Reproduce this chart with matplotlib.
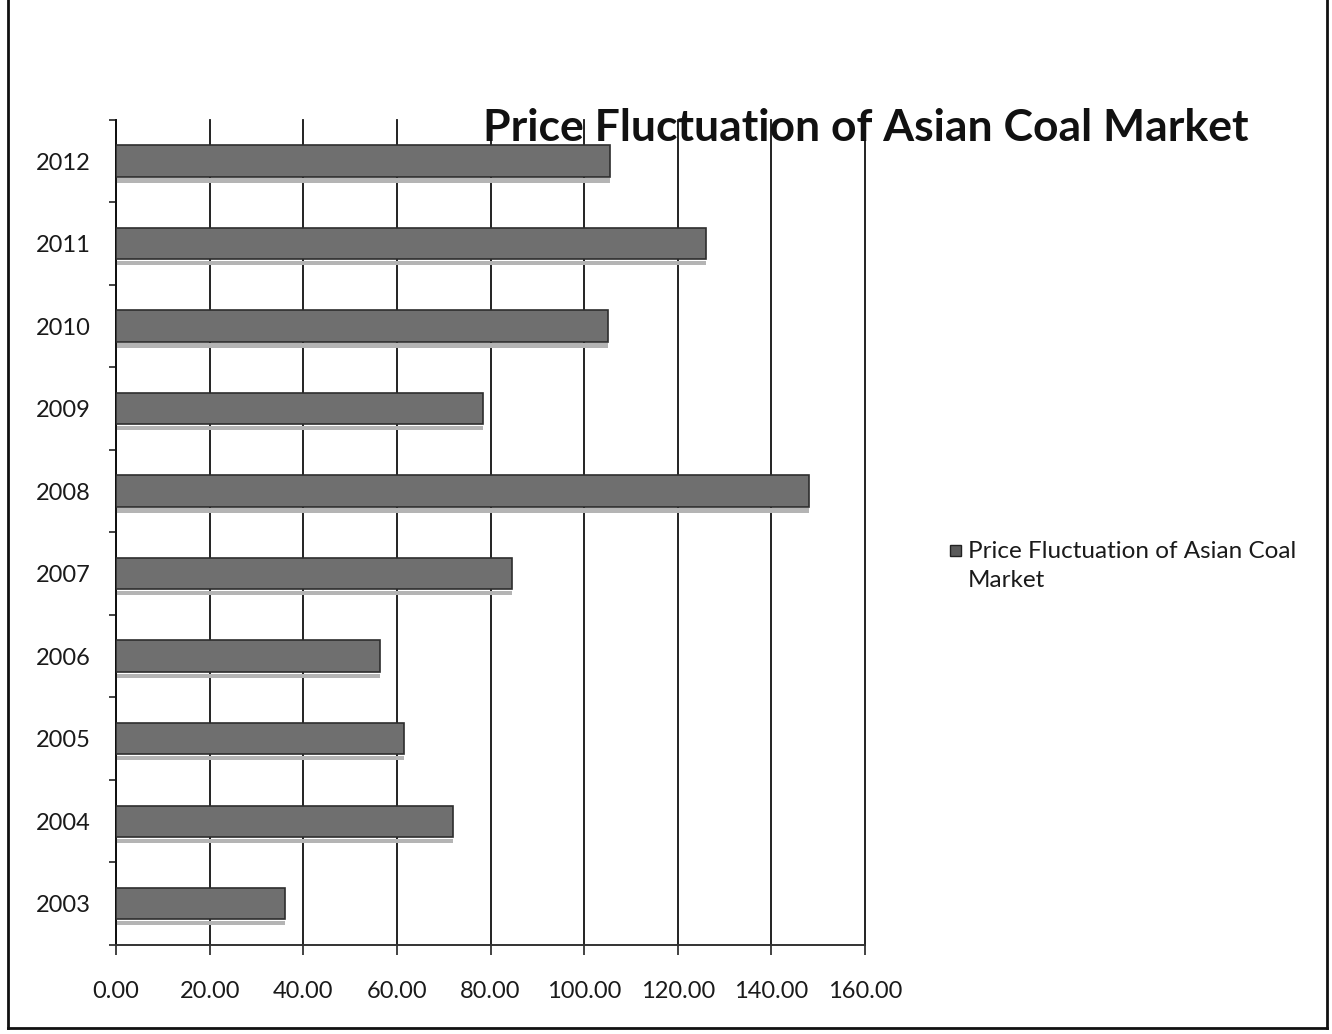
import matplotlib
matplotlib.use("Agg")
import matplotlib.pyplot as plt
from matplotlib.patches import Rectangle
from matplotlib.lines import Line2D
import numpy as np

years = ["2003", "2004", "2005", "2006", "2007", "2008", "2009", "2010", "2011", "2012"]
prices = [36.2, 72.0, 61.5, 56.3, 84.5, 148.0, 78.4, 105.2, 126.0, 105.6]
x_ticks = [0, 20, 40, 60, 80, 100, 120, 140, 160]
series_name = "Price Fluctuation of Asian Coal Market"

plt.rcParams["font.family"] = ["Lato", "DejaVu Sans"]

fig = plt.figure(figsize=(13.32, 10.34), dpi=100)
fig.patch.set_facecolor("white")

ax = fig.add_axes([0.0871, 0.0861, 0.5623, 0.798])
pos = np.arange(len(years))
bar_h = 0.38

# soft drop shadow under each bar
ax.barh(pos - bar_h / 2 - 0.045, prices, height=0.05, left=0,
        color="#b4b4b4", edgecolor="none", zorder=2)
ax.barh(pos, prices, height=bar_h, color="#6f6f6f",
        edgecolor="#2e2e2e", linewidth=1.2, zorder=3, label=series_name)

ax.set_xlim(0, 160)
ax.set_ylim(-0.5, len(years) - 0.5)

ax.set_xticks(x_ticks)
ax.set_xticklabels([f"{v:.2f}" for v in x_ticks], fontsize=17, color="#1a1a1a")
ax.tick_params(axis="x", direction="out", length=7, width=1.2, pad=19, color="#222222")

ax.set_yticks(pos)
ax.set_yticklabels(years, fontsize=17, color="#1a1a1a")
ax.tick_params(axis="y", which="major", length=0, pad=18)
ax.set_yticks(np.arange(-0.5, len(years)), minor=True)
ax.tick_params(axis="y", which="minor", direction="out", length=5, width=1.2, color="#222222")

ax.grid(axis="x", color="#111111", linewidth=1.3, zorder=1)
for gl in ax.get_xgridlines():
    gl.set_clip_on(False)
ax.set_axisbelow(True)
for s in ["top", "right"]:
    ax.spines[s].set_visible(False)
ax.spines["left"].set_color("#111111")
ax.spines["left"].set_linewidth(1.4)
ax.spines["bottom"].set_color("#333333")
ax.spines["bottom"].set_linewidth(1.4)

fig.text(483 / 1332, 1 - 128 / 1034, series_name, fontsize=32, fontweight="bold",
         ha="left", va="center", color="#111111")

# legend entry
fig.patches.append(Rectangle((950 / 1332, 1 - 556 / 1034), 11 / 1332, 11 / 1034,
                             transform=fig.transFigure, facecolor="#5a5a5a",
                             edgecolor="#222222", linewidth=1))
fig.text(968 / 1332, 1 - 566 / 1034, "Price Fluctuation of Asian Coal\nMarket",
         fontsize=17.5, ha="left", va="center", color="#1a1a1a", linespacing=1.5)

# outer frame on the left, right and bottom
fx0, fx1, fy0 = 8 / 1332, 1327 / 1332, 6 / 1034
frame_kw = dict(transform=fig.transFigure, color="#111111", linewidth=2)
fig.lines.append(Line2D([fx0, fx0], [fy0, 1.0], **frame_kw))
fig.lines.append(Line2D([fx1, fx1], [fy0, 1.0], **frame_kw))
fig.lines.append(Line2D([fx0, fx1], [fy0, fy0], **frame_kw))

fig.savefig("out.png", dpi=100)
